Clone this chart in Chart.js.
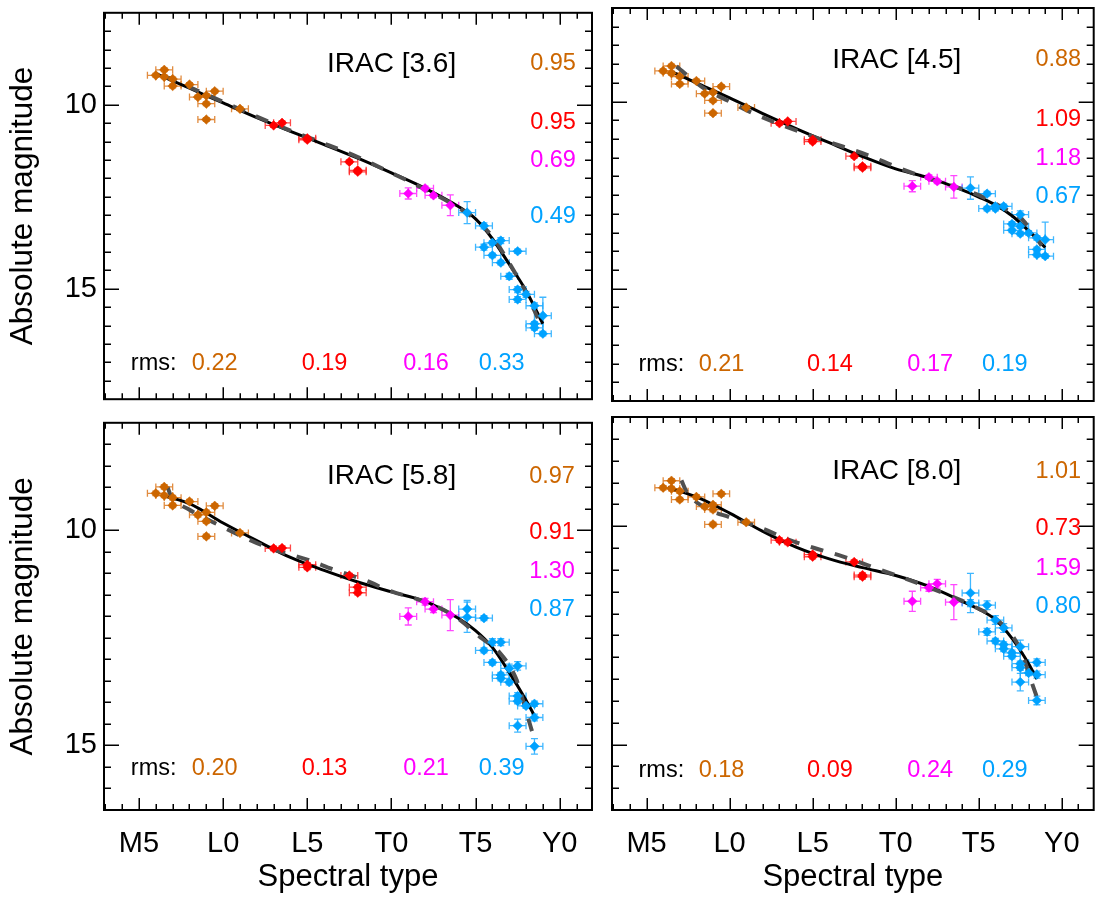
<!DOCTYPE html>
<html>
<head>
<meta charset="utf-8">
<script src="https://cdn.jsdelivr.net/npm/chart.js@4.4.1/dist/chart.umd.min.js"></script>
<style>
  body { margin: 0; background: #fff; width: 1099px; height: 899px; position: relative; overflow: hidden; }
  canvas { position: absolute; }
</style>
</head>
<body>
<canvas id="c36" width="600" height="412" style="left:0;top:0"></canvas>
<canvas id="c45" width="499" height="412" style="left:600px;top:0"></canvas>
<canvas id="c58" width="600" height="489" style="left:0;top:410px"></canvas>
<canvas id="c80" width="499" height="489" style="left:600px;top:410px"></canvas>
<script>
// Shared axis data
const spectralTicks = [5, 10, 15, 20, 25, 30];
const spectralLabels = ['M5', 'L0', 'L5', 'T0', 'T5', 'Y0'];
const magTicks = [10, 15];

// Spectral types of the M, L and L/T groups (same objects in every band)
const specBrown = [6, 6.5, 6.5, 7, 7, 8, 8.5, 9, 9, 9.5, 9, 11];
const specRed = [13, 13.5, 15, 15, 17.5, 18, 18];
const specMagenta = [21, 22, 22.5, 23.5];

// IRAC [3.6]
const mag36Brown = [9.20, 9.05, 9.24, 9.30, 9.49, 9.45, 9.79, 9.75, 9.97, 9.63, 10.40, 10.11];
const mag36Red = [10.56, 10.49, 10.91, 10.95, 11.55, 11.78, 11.82];
const mag36Magenta = [12.41, 12.27, 12.46, 12.73];
const err36Magenta = [0.15, 0.06, 0.06, 0.28];
const spec36Blue = [24.5, 25.5, 25.5, 26, 26, 26.5, 26.5, 27, 27.5, 27.5, 27.5, 28, 28.5, 28.5, 28.5, 29, 29];
const mag36Blue = [12.93, 13.29, 13.87, 13.75, 14.09, 13.69, 14.29, 14.66, 13.98, 15.02, 15.29, 15.15, 15.46, 15.95, 16.06, 15.73, 16.22];
const err36Blue = [0.3, 0.08, 0.08, 0.06, 0.06, 0.08, 0.06, 0.08, 0.06, 0.08, 0.08, 0.08, 0.08, 0.06, 0.06, 0.5, 0.06];
const fit36X = [6, 8, 10, 12, 14, 16, 18, 20, 22, 24, 25, 26, 27, 28, 29];
const fit36Y = [9.15, 9.55, 9.95, 10.35, 10.72, 11.08, 11.45, 11.85, 12.27, 12.77, 13.1, 13.64, 14.33, 15.05, 15.95];
const alt36X = [6.5, 8, 10, 12, 14, 16, 18, 20, 22, 24, 25, 26, 27, 28, 28.7];
const alt36Y = [9.22, 9.52, 9.92, 10.32, 10.7, 11.05, 11.42, 11.85, 12.3, 12.8, 13.12, 13.58, 14.3, 15.1, 15.8];
const col36 = ['0.95', '0.95', '0.69', '0.49'];
const rms36 = ['0.22', '0.19', '0.16', '0.33'];

// IRAC [4.5]
const mag45Brown = [9.18, 9.05, 9.24, 9.33, 9.53, 9.45, 9.79, 9.75, 9.97, 9.60, 10.31, 10.16];
const mag45Red = [10.58, 10.53, 11.02, 11.07, 11.46, 11.73, 11.77];
const mag45Magenta = [12.26, 12.02, 12.13, 12.28];
const err45Magenta = [0.15, 0.06, 0.06, 0.3];
const spec45Blue = [24.5, 25.5, 25.5, 26, 26, 26.5, 27, 27, 27.5, 27.5, 27.5, 28, 28.5, 28.5, 28.5, 29, 29];
const mag45Blue = [12.31, 12.46, 12.86, 12.80, 12.86, 12.80, 13.27, 13.44, 13.02, 13.33, 13.53, 13.51, 13.64, 13.95, 14.09, 13.69, 14.13];
const err45Blue = [0.3, 0.06, 0.06, 0.06, 0.06, 0.06, 0.06, 0.06, 0.1, 0.06, 0.06, 0.06, 0.06, 0.06, 0.06, 0.47, 0.06];
const fit45X = [6.5, 8, 10, 12, 14, 16, 18, 20, 22, 24, 25, 26, 27, 28, 29];
const fit45Y = [9.2, 9.5, 9.9, 10.32, 10.72, 11.1, 11.47, 11.8, 12.04, 12.36, 12.55, 12.76, 13.05, 13.45, 13.9];
const alt45X = [6.8, 8.3, 10, 11.6, 15, 16.8, 18.5, 20, 22, 25, 26.5, 27.5, 28, 28.6, 28.9];
const alt45Y = [9.06, 9.6, 10.0, 10.35, 10.93, 11.2, 11.46, 11.74, 12.06, 12.5, 12.85, 13.1, 13.35, 13.73, 13.92];
const col45 = ['0.88', '1.09', '1.18', '0.67'];
const rms45 = ['0.21', '0.14', '0.17', '0.19'];

// IRAC [5.8]
const mag58Brown = [9.14, 8.99, 9.19, 9.24, 9.42, 9.33, 9.64, 9.58, 9.79, 9.43, 10.14, 10.06];
const mag58Red = [10.42, 10.41, 10.80, 10.86, 11.05, 11.32, 11.45];
const mag58Magenta = [12.0, 11.66, 11.83, 11.97];
const err58Magenta = [0.2, 0.08, 0.08, 0.36];
const spec58Blue = [24.5, 24.5, 25.5, 25.5, 26, 26, 26.5, 26.5, 26.5, 27, 27, 27.5, 27.5, 27.5, 27.5, 28, 28.5, 28.5, 28.5];
const mag58Blue = [11.83, 12.02, 12.04, 12.79, 12.60, 13.07, 12.60, 13.36, 13.44, 13.21, 13.53, 13.15, 13.85, 13.97, 14.54, 14.08, 14.03, 14.35, 15.02];
const err58Blue = [0.2, 0.35, 0.06, 0.06, 0.08, 0.06, 0.08, 0.06, 0.06, 0.1, 0.06, 0.1, 0.08, 0.06, 0.15, 0.06, 0.06, 0.08, 0.18];
const fit58X = [6.7, 8, 10, 12, 14, 16, 18, 20, 22, 24, 25, 26, 27, 28, 28.5];
const fit58Y = [9.22, 9.38, 9.83, 10.24, 10.63, 10.93, 11.2, 11.43, 11.65, 12.05, 12.33, 12.72, 13.3, 13.95, 14.31];
const alt58X = [6.7, 6.9, 8, 9.4, 11.4, 13, 15, 16.5, 18.5, 20, 21.7, 23.7, 25.4, 26.4, 27.4, 28, 28.4];
const alt58Y = [9.0, 9.2, 9.52, 9.81, 10.19, 10.45, 10.68, 10.9, 11.17, 11.42, 11.62, 11.98, 12.52, 12.83, 13.44, 14.2, 14.73];
const col58 = ['0.97', '0.91', '1.30', '0.87'];
const rms58 = ['0.20', '0.13', '0.21', '0.39'];

// IRAC [8.0]
const mag80Brown = [9.12, 8.96, 9.14, 9.20, 9.39, 9.33, 9.55, 9.51, 9.62, 9.26, 9.96, 9.91];
const mag80Red = [10.32, 10.37, 10.65, 10.70, 10.82, 11.12, 11.16];
const mag80Magenta = [11.72, 11.41, 11.32, 11.74];
const err80Magenta = [0.23, 0.08, 0.1, 0.4];
const spec80Blue = [24.5, 24.5, 25.5, 25.5, 26, 26, 26.5, 26.5, 26.5, 27, 27, 27.5, 27.5, 27.5, 27.5, 28, 28.5, 28.5, 28.5];
const mag80Blue = [11.53, 11.76, 11.81, 12.42, 12.15, 12.63, 12.33, 12.71, 12.81, 12.90, 12.98, 12.76, 13.15, 13.24, 13.57, 13.36, 13.12, 13.40, 13.99];
const err80Blue = [0.45, 0.08, 0.1, 0.08, 0.1, 0.06, 0.1, 0.06, 0.06, 0.06, 0.06, 0.15, 0.06, 0.06, 0.2, 0.06, 0.08, 0.08, 0.1];
const fit80X = [6.3, 8, 10, 12, 14, 16, 18, 20, 22, 24, 25, 26, 27, 28, 28.5];
const fit80Y = [9.12, 9.33, 9.7, 10.12, 10.48, 10.75, 10.95, 11.13, 11.38, 11.72, 11.9, 12.14, 12.57, 13.15, 13.5];
const alt80X = [7.1, 7.4, 8.4, 10.1, 11.9, 13.5, 15.1, 16.8, 18.5, 20.2, 22.3, 24.5, 26.3, 27.5, 28.2, 28.55];
const alt80Y = [8.95, 9.2, 9.55, 9.81, 10.04, 10.3, 10.5, 10.69, 10.92, 11.15, 11.45, 11.8, 12.21, 12.82, 13.59, 13.97];
const col80 = ['1.01', '0.73', '1.59', '0.80'];
const rms80 = ['0.18', '0.09', '0.24', '0.29'];

const BROWN = 'rgb(204,102,0)';
const RED = 'rgb(255,0,0)';
const MAGENTA = 'rgb(255,0,255)';
const BLUE = 'rgb(0,162,255)';
const groupColors = [BROWN, RED, MAGENTA, BLUE];
const FONT = "'Liberation Sans', Arial, Helvetica, sans-serif";

Chart.defaults.font.family = FONT;
Chart.defaults.color = '#000';

const toPoints = (xs, ys) => xs.map((x, i) => ({ x: x, y: ys[i] }));

// Error bars drawn below the markers
const errorBars = {
  id: 'errorBars',
  beforeDatasetsDraw(chart) {
    const { ctx, scales: { x, y } } = chart;
    chart.data.datasets.forEach(ds => {
      if (!ds.yErr) return;
      ctx.save();
      ctx.strokeStyle = ds.errColor;
      ctx.lineWidth = 1.3;
      ds.data.forEach((p, j) => {
        const px = x.getPixelForValue(p.x), py = y.getPixelForValue(p.y);
        const x0 = x.getPixelForValue(p.x - 0.5), x1 = x.getPixelForValue(p.x + 0.5);
        const y0 = y.getPixelForValue(p.y - ds.yErr[j]), y1 = y.getPixelForValue(p.y + ds.yErr[j]);
        ctx.beginPath();
        ctx.moveTo(x0, py); ctx.lineTo(x1, py);
        ctx.moveTo(x0, py - 3.5); ctx.lineTo(x0, py + 3.5);
        ctx.moveTo(x1, py - 3.5); ctx.lineTo(x1, py + 3.5);
        ctx.moveTo(px, y0); ctx.lineTo(px, y1);
        ctx.moveTo(px - 3.5, y0); ctx.lineTo(px + 3.5, y0);
        ctx.moveTo(px - 3.5, y1); ctx.lineTo(px + 3.5, y1);
        ctx.stroke();
      });
      ctx.restore();
    });
  }
};

// Box with inward ticks on all four sides
const frame = {
  id: 'frame',
  afterDraw(chart) {
    const { ctx, chartArea: a, scales: { x, y } } = chart;
    ctx.save();
    ctx.strokeStyle = '#000';
    ctx.lineWidth = 1.5;
    ctx.beginPath();
    for (let v = 3; v <= 31; v++) {
      const px = Math.round(x.getPixelForValue(v)) + 0.25;
      const len = v % 5 === 0 ? 12 : 6;
      ctx.moveTo(px, a.bottom); ctx.lineTo(px, a.bottom - len);
      ctx.moveTo(px, a.top); ctx.lineTo(px, a.top + len);
    }
    for (let v = 8; v < y.max; v += 0.5) {
      const py = Math.round(y.getPixelForValue(v)) + 0.25;
      const len = v % 5 === 0 ? 15 : 7;
      ctx.moveTo(a.left, py); ctx.lineTo(a.left + len, py);
      ctx.moveTo(a.right, py); ctx.lineTo(a.right - len, py);
    }
    ctx.stroke();
    ctx.lineWidth = 2;
    ctx.strokeRect(a.left, a.top, a.width, a.height);
    ctx.restore();
  }
};

// Band name, per-group numbers and rms row
const panelText = {
  id: 'panelText',
  afterDraw(chart, args, opts) {
    const { ctx, chartArea: a } = chart;
    const fx = f => a.left + f * a.width;
    const fy = f => a.top + f * a.height;
    ctx.save();
    ctx.textBaseline = 'middle';
    ctx.fillStyle = '#000';
    ctx.font = '28px ' + FONT;
    ctx.textAlign = 'left';
    ctx.fillText(opts.band, fx(0.457), fy(opts.colY[0]));
    ctx.font = '23.5px ' + FONT;
    ctx.textAlign = 'right';
    opts.col.forEach((t, i) => {
      ctx.fillStyle = groupColors[i];
      ctx.fillText(t, fx(opts.colX), fy(opts.colY[i]));
    });
    ctx.textAlign = 'left';
    ctx.fillStyle = '#000';
    ctx.fillText('rms:', fx(0.055), fy(opts.rmsY));
    const rmsX = [0.18, 0.405, 0.613, 0.768];
    opts.rms.forEach((t, i) => {
      ctx.fillStyle = groupColors[i];
      ctx.fillText(t, fx(rmsX[i]), fy(opts.rmsY));
    });
    ctx.restore();
  }
};

function makePanel(p) {
  const groups = [
    { spec: specBrown, mag: p.brown, err: specBrown.map(() => 0.05), color: BROWN, errColor: 'rgba(220,120,30,0.85)' },
    { spec: specRed, mag: p.red, err: specRed.map(() => 0.05), color: RED, errColor: 'rgba(255,40,40,0.85)' },
    { spec: specMagenta, mag: p.magenta, err: p.magentaErr, color: MAGENTA, errColor: 'rgba(255,40,255,0.85)' },
    { spec: p.blueSpec, mag: p.blue, err: p.blueErr, color: BLUE, errColor: 'rgba(30,170,255,0.85)' }
  ];
  const datasets = groups.map(g => ({
    type: 'scatter',
    data: toPoints(g.spec, g.mag),
    yErr: g.err,
    errColor: g.errColor,
    pointStyle: 'rectRot',
    pointRadius: 4.8,
    backgroundColor: g.color,
    borderColor: g.color,
    borderWidth: 0.5
  }));
  datasets.push({
    type: 'line',
    data: toPoints(p.altX, p.altY),
    borderColor: 'rgb(80,80,80)',
    borderWidth: 4,
    borderDash: [13, 12],
    pointRadius: 0,
    fill: false,
    cubicInterpolationMode: 'monotone'
  });
  datasets.push({
    type: 'line',
    data: toPoints(p.fitX, p.fitY),
    borderColor: '#000',
    borderWidth: 3,
    pointRadius: 0,
    fill: false,
    cubicInterpolationMode: 'monotone'
  });

  new Chart(document.getElementById(p.id), {
    type: 'scatter',
    data: { datasets: datasets },
    options: {
      responsive: false,
      animation: false,
      devicePixelRatio: 1,
      layout: { padding: p.padding },
      plugins: {
        legend: { display: false },
        tooltip: { enabled: false },
        panelText: { band: p.band, col: p.col, colX: p.colX, colY: p.colY, rms: p.rms, rmsY: p.rmsY }
      },
      scales: {
        x: {
          type: 'linear',
          min: 2.92,
          max: 31.92,
          grid: { display: false, drawTicks: false },
          border: { display: false },
          afterBuildTicks: axis => { axis.ticks = spectralTicks.map(v => ({ value: v })); },
          afterFit: axis => { axis.height = p.xHeight; },
          ticks: {
            display: p.showX,
            autoSkip: false,
            maxRotation: 0,
            padding: 17,
            font: { size: 29 },
            color: '#000',
            callback: v => spectralLabels[spectralTicks.indexOf(v)]
          },
          title: {
            display: p.showX,
            text: 'Spectral type',
            font: { size: 31 },
            color: '#000',
            padding: { top: 0, bottom: 3 }
          }
        },
        y: {
          type: 'linear',
          reverse: true,
          min: 7.5,
          max: p.yMax,
          grid: { display: false, drawTicks: false },
          border: { display: false },
          afterBuildTicks: axis => { axis.ticks = magTicks.map(v => ({ value: v })); },
          afterFit: axis => { axis.width = p.yWidth; },
          ticks: {
            display: p.showY,
            padding: 7,
            font: { size: 29, lineHeight: 0.4 },
            color: '#000'
          },
          title: {
            display: p.showY,
            text: 'Absolute magnitude',
            font: { size: 31.5 },
            color: '#000',
            padding: { top: 4, bottom: 0 }
          }
        }
      }
    },
    plugins: [errorBars, frame, panelText]
  });
}

makePanel({
  id: 'c36', band: 'IRAC [3.6]', yMax: 18, showX: false, showY: true, yWidth: 104, xHeight: 0,
  padding: { top: 8, right: 8, bottom: 11, left: 0 },
  brown: mag36Brown, red: mag36Red, magenta: mag36Magenta, magentaErr: err36Magenta,
  blueSpec: spec36Blue, blue: mag36Blue, blueErr: err36Blue,
  fitX: fit36X, fitY: fit36Y, altX: alt36X, altY: alt36Y,
  col: col36, colX: 0.967, colY: [0.132, 0.285, 0.382, 0.527], rms: rms36, rmsY: 0.908
});
makePanel({
  id: 'c45', band: 'IRAC [4.5]', yMax: 18, showX: false, showY: false, yWidth: 12, xHeight: 0,
  padding: { top: 8, right: 2, bottom: 11, left: 0 },
  brown: mag45Brown, red: mag45Red, magenta: mag45Magenta, magentaErr: err45Magenta,
  blueSpec: spec45Blue, blue: mag45Blue, blueErr: err45Blue,
  fitX: fit45X, fitY: fit45Y, altX: alt45X, altY: alt45Y,
  col: col45, colX: 0.974, colY: [0.132, 0.285, 0.382, 0.48], rms: rms45, rmsY: 0.908
});
makePanel({
  id: 'c58', band: 'IRAC [5.8]', yMax: 16.5, showX: true, showY: true, yWidth: 104, xHeight: 89,
  padding: { top: 7, right: 8, bottom: 0, left: 0 },
  brown: mag58Brown, red: mag58Red, magenta: mag58Magenta, magentaErr: err58Magenta,
  blueSpec: spec58Blue, blue: mag58Blue, blueErr: err58Blue,
  fitX: fit58X, fitY: fit58Y, altX: alt58X, altY: alt58Y,
  col: col58, colX: 0.965, colY: [0.139, 0.283, 0.385, 0.483], rms: rms58, rmsY: 0.894
});
makePanel({
  id: 'c80', band: 'IRAC [8.0]', yMax: 16.5, showX: true, showY: false, yWidth: 12, xHeight: 89,
  padding: { top: 7, right: 2, bottom: 0, left: 0 },
  brown: mag80Brown, red: mag80Red, magenta: mag80Magenta, magentaErr: err80Magenta,
  blueSpec: spec80Blue, blue: mag80Blue, blueErr: err80Blue,
  fitX: fit80X, fitY: fit80Y, altX: alt80X, altY: alt80Y,
  col: col80, colX: 0.974, colY: [0.139, 0.283, 0.385, 0.483], rms: rms80, rmsY: 0.899
});
</script>
</body>
</html>
